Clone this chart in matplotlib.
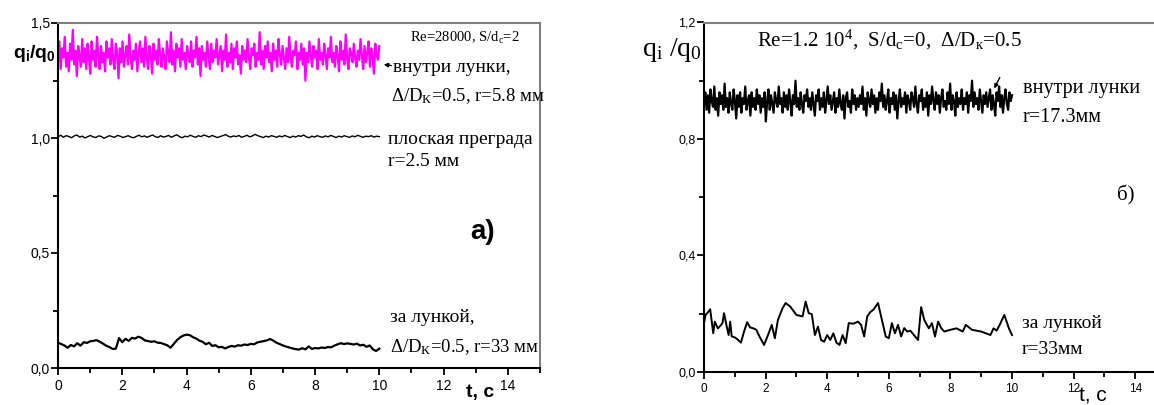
import numpy as np
import matplotlib
matplotlib.use('Agg')
from matplotlib import pyplot as plt
from matplotlib.ticker import MultipleLocator, FuncFormatter

plt.rcParams['font.family'] = ['Liberation Sans', 'DejaVu Sans']
plt.rcParams['mathtext.default'] = 'regular'

# ---- panel a): Re=28000, S/dc=2 ----
# inside dimple, r=5.8 mm (magenta, dense signal)
q_inside_a = [
    1.33, 1.42, 1.30, 1.39, 1.35, 1.44, 1.31, 1.37, 1.29, 1.41, 1.34, 1.47, 1.32, 1.38, 1.27, 1.40, 1.36, 1.31, 1.43, 1.33,
    1.39, 1.30, 1.41, 1.35, 1.28, 1.42, 1.34, 1.38, 1.31, 1.44, 1.36, 1.30, 1.40, 1.33, 1.37, 1.29, 1.42, 1.35, 1.39, 1.32,
    1.43, 1.34, 1.30, 1.41, 1.37, 1.26, 1.39, 1.33, 1.42, 1.31, 1.36, 1.40, 1.32, 1.45, 1.35, 1.30, 1.38, 1.34, 1.41, 1.29,
    1.37, 1.42, 1.33, 1.39, 1.31, 1.44, 1.35, 1.30, 1.40, 1.36, 1.28, 1.41, 1.34, 1.38, 1.32, 1.43, 1.36, 1.31, 1.39, 1.35,
    1.30, 1.42, 1.37, 1.33, 1.46, 1.32, 1.38, 1.29, 1.41, 1.35, 1.39, 1.31, 1.43, 1.34, 1.37, 1.30, 1.40, 1.36, 1.33, 1.42,
    1.31, 1.38, 1.35, 1.44, 1.32, 1.39, 1.27, 1.40, 1.34, 1.37, 1.31, 1.42, 1.36, 1.30, 1.41, 1.33, 1.38, 1.35, 1.43, 1.32,
    1.36, 1.40, 1.29, 1.38, 1.34, 1.45, 1.31, 1.37, 1.33, 1.41, 1.30, 1.39, 1.35, 1.42, 1.32, 1.36, 1.28, 1.40, 1.34, 1.38,
    1.33, 1.43, 1.35, 1.30, 1.39, 1.36, 1.41, 1.31, 1.37, 1.34, 1.46, 1.32, 1.38, 1.30, 1.40, 1.35, 1.42, 1.33, 1.37, 1.29,
    1.41, 1.34, 1.38, 1.31, 1.43, 1.36, 1.32, 1.40, 1.35, 1.30, 1.39, 1.33, 1.44, 1.35, 1.31, 1.38, 1.36, 1.42, 1.30, 1.37,
    1.34, 1.41, 1.32, 1.39, 1.25, 1.37, 1.33, 1.42, 1.36, 1.31, 1.40, 1.35, 1.38, 1.30, 1.43, 1.34, 1.37, 1.32, 1.41, 1.36,
    1.30, 1.39, 1.35, 1.44, 1.33, 1.37, 1.31, 1.40, 1.36, 1.29, 1.42, 1.34, 1.38, 1.32, 1.45, 1.35, 1.30, 1.39, 1.37, 1.33,
    1.41, 1.35, 1.31, 1.38, 1.34, 1.43, 1.36, 1.30, 1.40, 1.33, 1.37, 1.42, 1.31, 1.39, 1.35, 1.28, 1.41, 1.36, 1.34, 1.40,
]

# flat plate, r=2.5 mm
q_flat_a = [
    1.005, 1.012, 1.003, 1.010, 1.007, 1.001, 1.009, 1.013, 1.004, 1.008, 1.000, 1.006, 1.011, 1.005, 1.002, 1.009, 1.007, 0.999, 1.004, 1.010,
    1.006, 1.003, 1.011, 1.008, 1.002, 1.006, 1.010, 1.004, 1.001, 1.007, 1.012, 1.005, 1.009, 1.003, 1.008, 1.013, 1.006, 1.002, 1.010, 1.004,
    1.007, 1.011, 1.003, 1.009, 1.014, 1.006, 1.001, 1.008, 1.005, 1.012, 1.007, 1.003, 1.010, 1.006, 1.013, 1.009, 1.004, 1.011, 1.007, 1.002,
    1.006, 1.010, 1.015, 1.008, 1.004, 1.009, 1.006, 1.011, 1.003, 1.007, 1.012, 1.005, 1.009, 1.016, 1.010, 1.006, 1.002, 1.008, 1.004, 1.010,
    1.007, 1.003, 1.009, 1.005, 1.011, 1.006, 1.002, 1.008, 1.004, 1.010, 1.007, 1.013, 1.005, 1.001, 1.008, 1.004, 1.010, 1.006, 1.003, 1.009,
    1.005, 1.011, 1.007, 1.002, 1.008, 1.004, 1.010, 1.006, 1.003, 1.009, 1.005, 1.012, 1.007, 1.003, 1.008, 1.006, 1.010, 1.004, 1.008, 1.006,
]

# behind dimple, r=33 mm (sampled every 0.1 s)
q_behind_a = [
    0.110, 0.104, 0.098, 0.088, 0.100, 0.094, 0.108, 0.097, 0.112, 0.109,
    0.116, 0.118, 0.121, 0.114, 0.106, 0.097, 0.091, 0.083, 0.084, 0.130,
    0.112, 0.127, 0.118, 0.131, 0.128, 0.136, 0.131, 0.120, 0.117, 0.114,
    0.116, 0.110, 0.109, 0.104, 0.099, 0.088, 0.104, 0.121, 0.133, 0.141,
    0.145, 0.143, 0.134, 0.128, 0.119, 0.114, 0.103, 0.110, 0.096, 0.099,
    0.090, 0.092, 0.085, 0.091, 0.096, 0.093, 0.099, 0.097, 0.102, 0.100,
    0.105, 0.103, 0.111, 0.114, 0.117, 0.120, 0.126, 0.119, 0.110, 0.104,
    0.098, 0.093, 0.089, 0.085, 0.082, 0.080, 0.086, 0.081, 0.094, 0.083,
    0.087, 0.085, 0.089, 0.087, 0.091, 0.090, 0.097, 0.103, 0.108, 0.104,
    0.107, 0.105, 0.102, 0.106, 0.098, 0.101, 0.092, 0.098, 0.081, 0.074,
    0.084,
]

# ---- panel б): Re=1.2e4, S/dc=0, Δ/Dк=0.5 ----
q_inside_b = [
    0.92, 0.96, 0.90, 0.95, 0.89, 0.97, 0.93, 0.91, 0.98, 0.90, 0.94, 0.88, 0.96, 0.92, 0.95, 0.90, 0.99, 0.91, 0.94, 0.89,
    0.96, 0.92, 0.90, 0.97, 0.93, 0.87, 0.95, 0.91, 0.96, 0.89, 0.94, 0.92, 0.98, 0.90, 0.93, 0.95, 0.88, 0.96, 0.91, 0.94,
    0.90, 0.97, 0.92, 0.95, 0.89, 0.94, 0.91, 0.96, 0.86, 0.93, 0.97, 0.90, 0.95, 0.92, 0.89, 0.96, 0.93, 0.91, 0.98, 0.92,
    0.94, 0.89, 0.96, 0.91, 0.95, 0.90, 0.97, 0.93, 0.88, 0.95, 0.92, 1.00, 0.91, 0.94, 0.90, 0.96, 0.92, 0.89, 0.95, 0.93,
    0.97, 0.91, 0.94, 0.90, 0.96, 0.92, 0.88, 0.95, 0.93, 0.97, 0.90, 0.94, 0.91, 0.96, 0.89, 0.93, 0.98, 0.92, 0.95, 0.90,
    0.93, 0.96, 0.89, 0.94, 0.91, 0.97, 0.92, 0.90, 0.95, 0.87, 0.94, 0.96, 0.91, 0.93, 0.89, 0.97, 0.92, 0.95, 0.90, 0.94,
    0.91, 0.95, 0.92, 0.98, 0.90, 0.94, 0.88, 0.96, 0.93, 0.91, 0.97, 0.92, 0.95, 0.89, 0.94, 0.90, 0.96, 0.93, 0.99, 0.91,
    0.95, 0.90, 0.93, 0.97, 0.89, 0.94, 0.92, 0.96, 0.90, 0.95, 0.87, 0.93, 0.97, 0.91, 0.94, 0.92, 0.96, 0.89, 0.95, 0.93,
    0.90, 0.96, 0.94, 0.91, 0.98, 0.92, 0.89, 0.95, 0.93, 0.97, 0.90, 0.94, 0.91, 0.96, 0.88, 0.95, 0.92, 0.98, 0.93, 0.90,
    0.96, 0.92, 0.95, 0.89, 0.94, 0.97, 0.91, 0.93, 0.90, 0.96, 0.92, 0.99, 0.90, 0.95, 0.93, 0.88, 0.96, 0.91, 0.94, 0.92,
    0.97, 0.90, 0.94, 0.92, 0.96, 0.89, 0.95, 0.93, 1.00, 0.91, 0.96, 0.92, 0.94, 0.90, 0.97, 0.93, 0.89, 0.95, 0.92, 0.96,
    0.91, 0.94, 0.97, 0.90, 0.95, 0.92, 0.88, 0.96, 0.93, 0.98, 0.91, 0.95, 0.89, 0.94, 0.97, 0.92, 0.90, 0.96, 0.93, 0.95,
]

t_behind_b = [0.0, 0.05, 0.15, 0.2, 0.3, 0.35, 0.45, 0.55, 0.6, 0.65, 0.75, 0.8, 0.85, 0.9, 1.0, 1.1, 1.2, 1.3,
              1.4, 1.5, 1.6, 1.7, 1.8, 1.95, 2.1, 2.2, 2.3, 2.4, 2.55, 2.65, 2.8, 3.0, 3.2, 3.3, 3.4, 3.5, 3.6,
              3.7, 3.8, 3.9, 4.0, 4.1, 4.2, 4.3, 4.4, 4.5, 4.6, 4.7, 4.85, 5.0, 5.1, 5.2, 5.3, 5.4, 5.5, 5.65,
              5.75, 5.9, 6.0, 6.1, 6.2, 6.3, 6.4, 6.5, 6.6, 6.7, 6.8, 6.95, 7.05, 7.15, 7.3, 7.4, 7.5, 7.6, 7.7,
              7.8, 8.0, 8.2, 8.4, 8.5, 8.7, 8.9, 9.0, 9.15, 9.3, 9.4, 9.5, 9.6, 9.75, 9.9, 10.0]
q_behind_b = [0.167, 0.195, 0.207, 0.215, 0.132, 0.172, 0.149, 0.160, 0.167, 0.201, 0.149, 0.126, 0.172, 0.121,
              0.118, 0.110, 0.100, 0.138, 0.170, 0.152, 0.149, 0.144, 0.121, 0.092, 0.132, 0.161, 0.115, 0.178,
              0.218, 0.236, 0.224, 0.195, 0.190, 0.241, 0.201, 0.198, 0.126, 0.155, 0.109, 0.103, 0.126, 0.109,
              0.132, 0.100, 0.092, 0.126, 0.098, 0.167, 0.165, 0.172, 0.161, 0.121, 0.190, 0.205, 0.213, 0.236,
              0.190, 0.121, 0.115, 0.167, 0.132, 0.161, 0.121, 0.150, 0.138, 0.141, 0.128, 0.109, 0.222, 0.178,
              0.149, 0.167, 0.121, 0.172, 0.150, 0.138, 0.144, 0.149, 0.138, 0.161, 0.144, 0.140, 0.138, 0.132,
              0.126, 0.149, 0.141, 0.161, 0.195, 0.149, 0.126]

W, H = 1154, 405
fig = plt.figure(figsize=(W / 100, H / 100), dpi=100)


def px(x, y):
    return x / W, 1 - y / H


def comma(v, pos):
    return f'{v:.1f}'.replace('.', ',')


def style_axes(ax, ymax, ymaj, ymin, tsize_y, tsize_x):
    ax.set_xlim(0, 15)
    ax.set_ylim(0, ymax)
    ax.xaxis.set_major_locator(MultipleLocator(2))
    ax.xaxis.set_minor_locator(MultipleLocator(1))
    ax.yaxis.set_major_locator(MultipleLocator(ymaj))
    ax.yaxis.set_minor_locator(MultipleLocator(ymin))
    ax.yaxis.set_major_formatter(FuncFormatter(comma))
    ax.xaxis.set_major_formatter(FuncFormatter(lambda v, p: f'{int(v)}'))
    ax.tick_params(which='both', direction='out', width=1.3, top=False, right=False)
    ax.tick_params(which='major', length=5)
    ax.tick_params(which='minor', length=3.5)
    ax.tick_params(axis='y', labelsize=tsize_y, pad=1)
    ax.tick_params(axis='x', labelsize=tsize_x, pad=3)
    for s in ['left', 'bottom']:
        ax.spines[s].set_linewidth(1.5)
        ax.spines[s].set_color('black')
    for s in ['top', 'right']:
        ax.spines[s].set_linewidth(1.5)
        ax.spines[s].set_color('#808080')


# panel a
ax1 = fig.add_axes([58 / W, 37 / H, 482 / W, 345 / H])
style_axes(ax1, 1.5, 0.5, 0.25, 10, 10)
ax1.plot(np.linspace(0, 10, len(q_inside_a)), q_inside_a, color='#ff00ff', lw=1.6)
ax1.plot(np.linspace(0, 10, len(q_flat_a)), q_flat_a, color='black', lw=1.0)
ax1.plot(np.linspace(0, 10, len(q_behind_a)), q_behind_a, color='black', lw=1.6)

# panel б
ax2 = fig.add_axes([704 / W, 33.3 / H, 462 / W, 349.2 / H])
style_axes(ax2, 1.2, 0.4, 0.2, 9, 8.5)
ax2.plot(np.linspace(0, 10, len(q_inside_b)), q_inside_b, color='black', lw=1.6)
ax2.plot(t_behind_b, q_behind_b, color='black', lw=1.4)

serif = ['Liberation Serif', 'DejaVu Serif']

# texts panel a
fig.text(*px(13, 53), 'q$_i$/q$_0$', fontsize=14, fontweight='bold', ha='left', va='center')
fig.text(*px(410, 38), 'Re=28000, S/d$_c$=2', family=serif, fontsize=10.5, ha='left', va='center')
fig.text(*px(393, 67), 'внутри лунки,', family=serif, fontsize=14, ha='left', va='center')
fig.text(*px(391, 96), 'Δ/D$_К$=0.5, r=5.8 мм', family=serif, fontsize=13.5, ha='left', va='center')
fig.text(*px(388, 140), 'плоская преграда', family=serif, fontsize=14, ha='left', va='center')
fig.text(*px(388, 162), 'r=2.5 мм', family=serif, fontsize=14, ha='left', va='center')
fig.text(*px(470, 232), 'а)', fontsize=20, fontweight='bold', ha='left', va='center')
fig.text(*px(390, 318), 'за лункой,', family=serif, fontsize=14, ha='left', va='center')
fig.text(*px(390, 347), 'Δ/D$_К$=0.5, r=33 мм', family=serif, fontsize=13.5, ha='left', va='center')
fig.text(*px(480, 393), 't, c', fontsize=14, fontweight='bold', ha='center', va='center')
fig.add_artist(plt.Annotation('', xy=px(381, 64), xytext=px(394, 66), xycoords='figure fraction',
                              arrowprops=dict(arrowstyle='-|>', color='black', lw=1, mutation_scale=6)))

# texts panel б
fig.text(*px(642, 50), 'q$_i$ /q$_0$', family=serif, fontsize=20, ha='left', va='center')
fig.text(*px(757, 40), 'Re=1.2 10$^4$,  S/d$_c$=0,  Δ/D$_к$=0.5', family=serif, fontsize=15, ha='left', va='center')
fig.text(*px(1023, 88), 'внутри лунки', family=serif, fontsize=14.5, ha='left', va='center')
fig.text(*px(1023, 118), 'r=17.3мм', family=serif, fontsize=14.5, ha='left', va='center')
fig.text(*px(1117, 195), 'б)', family=serif, fontsize=15, ha='left', va='center')
fig.text(*px(1022, 323), 'за лункой', family=serif, fontsize=14, ha='left', va='center')
fig.text(*px(1022, 350), 'r=33мм', family=serif, fontsize=14, ha='left', va='center')
fig.text(*px(1093, 396), 't, c', fontsize=15, ha='center', va='center')
fig.add_artist(plt.Annotation('', xy=px(993, 91), xytext=px(1001, 75), xycoords='figure fraction',
                              arrowprops=dict(arrowstyle='-|>', color='black', lw=1, mutation_scale=6)))

fig.savefig('out.png', dpi=100)
